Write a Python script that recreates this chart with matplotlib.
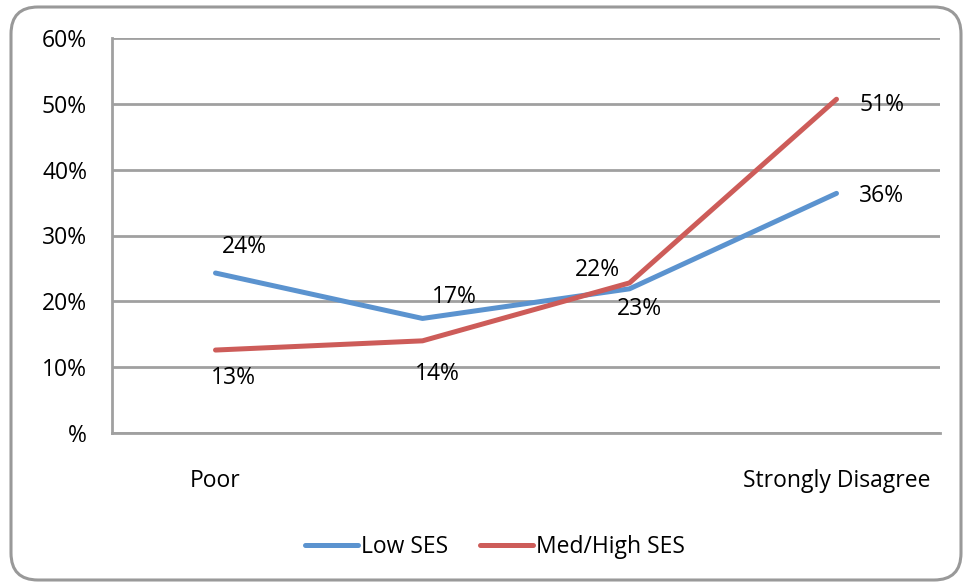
import matplotlib
matplotlib.use("Agg")
import matplotlib.pyplot as plt
from matplotlib.patches import FancyBboxPatch
from matplotlib.ticker import FuncFormatter

plt.rcParams['font.family'] = ['Open Sans', 'DejaVu Sans']

categories = ['Poor', '', '', 'Strongly Disagree']
low_ses = [0.243, 0.174, 0.219, 0.364]
med_high_ses = [0.126, 0.140, 0.228, 0.507]
y_ticks = [0.0, 0.1, 0.2, 0.3, 0.4, 0.5, 0.6]

# label offsets in pixels (dx, dy) relative to each point
low_offsets = [(29, 26), (32, 21), (-32, 19), (45, -3)]
med_offsets = [(18, -28), (15, -33), (10, -26), (45, -6)]

FS = 16.5
W, H = 963, 582
fig = plt.figure(figsize=(W / 100, H / 100), dpi=100)

# rounded chart frame
frame = FancyBboxPatch((11 / W, 2 / H), (961 - 11) / W, (575 - 2) / H,
                       boxstyle="round,pad=0,rounding_size=0.028",
                       transform=fig.transFigure, facecolor='white',
                       edgecolor='#999999', linewidth=2.2, mutation_aspect=W / H,
                       zorder=-1)
fig.patches.append(frame)

ax = fig.add_axes([112 / W, (H - 433) / H, 828 / W, 395 / H])
ax.set_facecolor('none')
ax.set_zorder(2)

x = list(range(len(categories)))
blue = '#5B93CF'
red = '#CD5C59'
ax.plot(x, low_ses, color=blue, lw=3.6, solid_capstyle='round', label='Low SES', zorder=3)
ax.plot(x, med_high_ses, color=red, lw=3.6, solid_capstyle='round', label='Med/High SES', zorder=3)

for xi, v, (dx, dy) in zip(x, low_ses, low_offsets):
    ax.annotate(f"{round(v * 100):d}%", (xi, v), xytext=(dx, dy), textcoords='offset pixels',
                ha='center', va='center', fontsize=FS, color='black', zorder=4)
for xi, v, (dx, dy) in zip(x, med_high_ses, med_offsets):
    ax.annotate(f"{round(v * 100):d}%", (xi, v), xytext=(dx, dy), textcoords='offset pixels',
                ha='center', va='center', fontsize=FS, color='black', zorder=4)

ax.set_xlim(-0.5, len(categories) - 0.5)
ax.set_ylim(0, 0.6)
ax.set_yticks(y_ticks)
ax.yaxis.set_major_formatter(FuncFormatter(lambda v, p: '%' if v == 0 else f"{round(v * 100):d}%"))
ax.set_xticks(x)
ax.set_xticklabels(categories)
ax.tick_params(axis='both', length=0, labelsize=FS)
ax.tick_params(axis='y', pad=18)
ax.tick_params(axis='x', pad=26)

ax.grid(axis='y', color='#A0A0A0', lw=2)
ax.set_axisbelow(True)
for side in ['top', 'right']:
    ax.spines[side].set_visible(False)
for side in ['left', 'bottom']:
    ax.spines[side].set_color('#A0A0A0')
    ax.spines[side].set_linewidth(2)

leg = fig.legend(loc='center', bbox_to_anchor=(495 / W, (H - 547) / H), ncol=2,
                 frameon=False, fontsize=FS, handlelength=2.3, handletextpad=0.15,
                 columnspacing=1.4)

fig.savefig('out.png', dpi=100)
